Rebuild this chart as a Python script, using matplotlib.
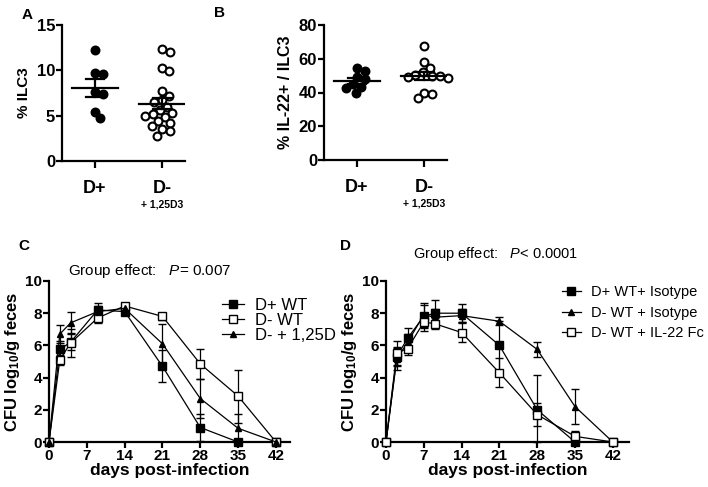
import numpy as np
import matplotlib
matplotlib.use("Agg")
import matplotlib.pyplot as plt

plt.rcParams['font.family'] = ['Liberation Sans', 'DejaVu Sans']
plt.rcParams['font.weight'] = 'bold'
plt.rcParams['axes.labelweight'] = 'bold'
plt.rcParams['mathtext.fontset'] = 'custom'
plt.rcParams['mathtext.rm'] = 'Liberation Sans:weight=bold'
plt.rcParams['mathtext.it'] = 'Liberation Sans:style=italic:weight=normal'
plt.rcParams['mathtext.bf'] = 'Liberation Sans:weight=bold'

# ---- panel A / B data (% values per mouse)
groups = ['D+', 'D-']
ilc3_dpos = [12.2, 9.6, 9.7, 7.6, 7.4, 4.7, 5.4]
ilc3_dneg = [12.3, 12.0, 10.3, 9.9, 7.7, 7.2, 6.7, 6.5, 6.0, 5.6, 5.3, 5.2,
             5.0, 4.9, 4.4, 4.2, 3.9, 3.5, 3.3, 2.8]
il22_dpos = [54.3, 52.9, 49.0, 47.8, 43.5, 39.5, 42.5, 44.9]
il22_dneg = [67.5, 58.0, 54.5, 52.0, 50.5, 50.0, 49.5, 49.0, 48.5, 40.0, 37.0, 39.0]

# ---- panel C data (CFU log10/g feces)
days_c = [0, 2, 4, 9, 14, 21, 28, 35, 42]
c_dpos_wt = [0, 5.75, 6.2, 8.2, 8.1, 4.7, 0.9, 0.0, 0]
c_dpos_wt_err = [0, 0.5, 0.5, 0.45, 0.2, 1.0, 0.85, 0.0, 0]
c_dneg_wt = [0, 5.1, 6.15, 7.7, 8.45, 7.8, 4.85, 2.85, 0]
c_dneg_wt_err = [0, 0.3, 0.85, 0.3, 0.2, 0.2, 0.95, 1.65, 0]
c_dneg_d3 = [0, 6.7, 7.4, 8.1, 8.3, 6.1, 2.7, 0.85, 0]
c_dneg_d3_err = [0, 0.55, 0.65, 0.35, 0.2, 1.2, 1.2, 0.9, 0]

# ---- panel D data
days_d = [0, 2, 4, 7, 9, 14, 21, 28, 35, 42]
d_dpos_iso = [0, 5.3, 6.45, 7.8, 8.0, 8.0, 6.0, 2.0, 0.0, 0]
d_dpos_iso_err = [0, 0.6, 0.65, 0.7, 0.85, 0.55, 1.5, 2.15, 0.0, 0]
d_dneg_iso = [0, 5.15, 6.2, 7.9, 7.75, 7.85, 7.5, 5.75, 2.2, 0]
d_dneg_iso_err = [0, 0.7, 0.5, 0.75, 0.5, 0.4, 0.25, 0.45, 1.1, 0]
d_dneg_il22 = [0, 5.55, 5.8, 7.45, 7.35, 6.8, 4.3, 1.7, 0.35, 0]
d_dneg_il22_err = [0, 0.75, 0.4, 0.55, 0.35, 0.6, 0.9, 0.7, 0.35, 0]

W, H = 708, 487
fig = plt.figure(figsize=(W / 100, H / 100), dpi=100)


def px_axes(left, top, right, bottom):
    return fig.add_axes([left / W, 1 - bottom / H, (right - left) / W, (bottom - top) / H])


def style(ax, size):
    for s in ['top', 'right']:
        ax.spines[s].set_visible(False)
    for s in ['left', 'bottom']:
        ax.spines[s].set_linewidth(1.6)
    ax.tick_params(width=1.6, length=4, labelsize=size, pad=1)


def swarm(vals, y_px, x_px, d=8.0):
    # simple beeswarm: offsets (in data x units) so markers don't overlap
    order = np.argsort(vals)[::-1]
    placed = []
    offs = np.zeros(len(vals))
    for i in order:
        y = vals[i] * y_px
        cands = [0.0]
        for (px, py) in placed:
            dy = abs(py - y)
            if dy < d:
                dx = np.sqrt(d * d - dy * dy)
                cands += [px + dx, px - dx]
        cands.sort(key=abs)
        for c in cands:
            if all((c - px) ** 2 + (y - py) ** 2 >= d * d - 1e-6 for px, py in placed):
                break
        placed.append((c, y))
        offs[i] = c / x_px
    return offs


def dot_panel(ax, a, b, ymax, yticks, ylabel, y_px, ylsize):
    for k, (vals, face) in enumerate([(a, 'black'), (b, 'white')]):
        vals = np.array(vals)
        xs = k + swarm(vals, y_px, 67)
        ax.scatter(xs, vals, s=32, facecolor=face, edgecolor='black', linewidth=1.5,
                   zorder=3, clip_on=False)
        m = vals.mean()
        sem = vals.std(ddof=1) / np.sqrt(len(vals))
        ax.plot([k - 0.34, k + 0.34], [m, m], color='black', lw=1.6, zorder=4)
        ax.plot([k - 0.14, k + 0.14], [m + sem, m + sem], color='black', lw=1.6, zorder=4)
        ax.plot([k - 0.14, k + 0.14], [m - sem, m - sem], color='black', lw=1.6, zorder=4)
        ax.plot([k, k], [m - sem, m + sem], color='black', lw=1.6, zorder=4)
    ax.set_xlim(-0.49, 1.34)
    ax.set_ylim(0, ymax)
    ax.set_yticks(yticks)
    ax.set_xticks([0, 1])
    ax.set_xticklabels(groups)
    style(ax, 12)
    ax.tick_params(axis='x', length=5, pad=9, labelsize=13)
    ax.set_ylabel(ylabel, fontsize=ylsize, labelpad=4)
    ax.text(1, -0.32, '+ 1,25D3', transform=ax.get_xaxis_transform(), ha='center',
            va='center', fontsize=7.5)


axA = px_axes(62, 25, 185, 161)
dot_panel(axA, ilc3_dpos, ilc3_dneg, 15, [0, 5, 10, 15], '% ILC3', 9.07, 11)
axB = px_axes(324, 25, 447, 160)
dot_panel(axB, il22_dpos, il22_dneg, 80, [0, 20, 40, 60, 80], '% IL-22+ / ILC3', 1.69, 11.5)

fig.text(22 / W, 1 - 15 / H, 'A', fontsize=11, va='center')
fig.text(214 / W, 1 - 13 / H, 'B', fontsize=11, va='center')
fig.text(18 / W, 1 - 246 / H, 'C', fontsize=11, va='center')
fig.text(340 / W, 1 - 246 / H, 'D', fontsize=11, va='center')


def curve(ax, x, y, e, marker, face, label, ms):
    y = np.array(y)
    e = np.array(e)
    ax.errorbar(x, y, yerr=[np.minimum(e, y), e], marker=marker, ms=ms, mfc=face, mec='black',
                mew=1.0, color='black', lw=0.9, elinewidth=0.9, capsize=3, capthick=0.9,
                label=label, clip_on=False, zorder=3)


def cfu_panel(ax, xmax):
    ax.set_xlim(0, xmax)
    ax.set_ylim(0, 10)
    ax.set_xticks([0, 7, 14, 21, 28, 35, 42])
    ax.set_yticks([0, 2, 4, 6, 8, 10])
    style(ax, 11)
    ax.set_xlabel('days post-infection', fontsize=12.5, labelpad=0)
    ax.set_ylabel('CFU log$_{10}$/g feces', fontsize=12, labelpad=2)


axC = px_axes(49, 281, 290, 442)
curve(axC, days_c, c_dpos_wt, c_dpos_wt_err, 's', 'black', 'D+ WT', 5.5)
curve(axC, days_c, c_dneg_wt, c_dneg_wt_err, 's', 'white', 'D- WT', 6)
curve(axC, days_c, c_dneg_d3, c_dneg_d3_err, '^', 'black', 'D- + 1,25D', 5)
cfu_panel(axC, 44.6)
h, l = axC.get_legend_handles_labels()
axC.legend([x[0] for x in h], l, loc='upper left', bbox_to_anchor=(0.69, 0.935), frameon=False,
           prop={'size': 12, 'weight': 'normal'}, handlelength=1.3, handletextpad=0.7,
           labelspacing=0.0, borderaxespad=0)
axC.text(0.42, 1.005, r'Group effect:   $\it{P}$= 0.007', transform=axC.transAxes,
         ha='center', va='bottom', fontsize=11, fontweight='normal')

axD = px_axes(386, 281, 629, 442)
curve(axD, days_d, d_dpos_iso, d_dpos_iso_err, 's', 'black', 'D+ WT+ Isotype', 5.5)
curve(axD, days_d, d_dneg_iso, d_dneg_iso_err, '^', 'black', 'D- WT + Isotype', 5)
curve(axD, days_d, d_dneg_il22, d_dneg_il22_err, 's', 'white', 'D- WT + IL-22 Fc', 6)
cfu_panel(axD, 45)
h, l = axD.get_legend_handles_labels()
axD.legend([x[0] for x in h], l, loc='upper left', bbox_to_anchor=(0.70, 1.01), frameon=False,
           prop={'size': 10.5, 'weight': 'normal'}, handlelength=1.3, handletextpad=0.7,
           labelspacing=0.45, borderaxespad=0)
axD.text(0.45, 1.11, r'Group effect:   $\it{P}$< 0.0001', transform=axD.transAxes,
         ha='center', va='bottom', fontsize=10.5, fontweight='normal')

fig.savefig('out.png', dpi=100)
